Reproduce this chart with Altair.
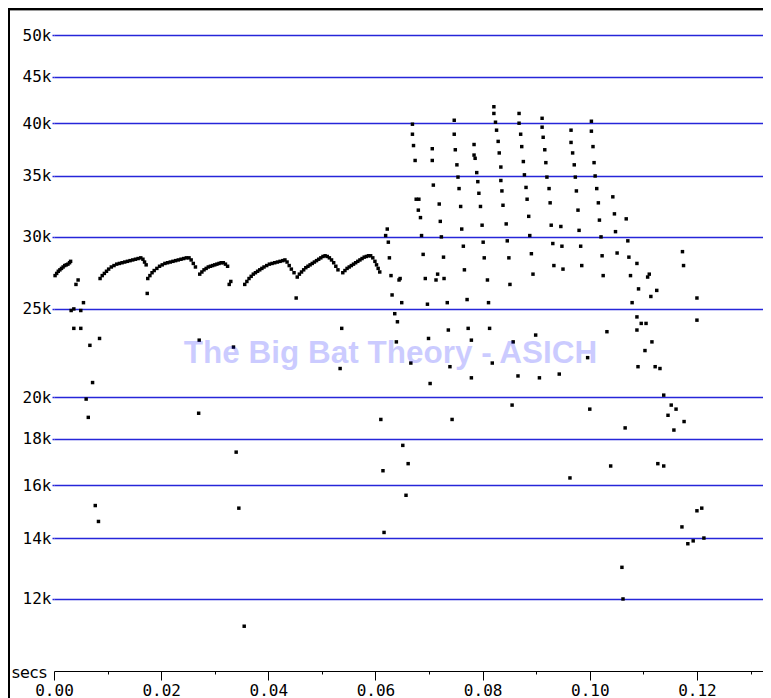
import altair as alt
import pandas as pd

# ---- data: time in milliseconds, frequency in kHz ----
chain1_t = [0.2, 0.5, 0.8, 1.1, 1.4, 1.7, 2.0, 2.3, 2.6, 2.9, 3.1]
chain1_f = [27.2, 27.35, 27.5, 27.6, 27.7, 27.8, 27.9, 27.95, 28.0, 28.1, 28.2]

chain2_t = [8.6, 9.0, 9.4, 9.8, 10.2, 10.7, 11.2, 11.7, 12.2, 12.7, 13.2, 13.7, 14.2, 14.7, 15.2, 15.7, 16.2, 16.6, 16.9, 17.2]
chain2_f = [27.0, 27.2, 27.35, 27.5, 27.65, 27.8, 27.9, 28.0, 28.05, 28.1, 28.15, 28.2, 28.25, 28.3, 28.35, 28.4, 28.45, 28.35, 28.15, 27.95]

chain3_t = [17.5, 17.9, 18.3, 18.7, 19.2, 19.7, 20.2, 20.7, 21.2, 21.7, 22.2, 22.7, 23.2, 23.7, 24.2, 24.7, 25.2, 25.6, 26.0, 26.4]
chain3_f = [27.0, 27.2, 27.4, 27.55, 27.7, 27.85, 27.95, 28.05, 28.1, 28.15, 28.2, 28.25, 28.3, 28.35, 28.4, 28.45, 28.45, 28.3, 28.05, 27.8]

chain4_t = [27.2, 27.6, 28.0, 28.4, 28.8, 29.2, 29.6, 30.0, 30.4, 30.8, 31.2, 31.6, 32.0, 32.4]
chain4_f = [27.3, 27.45, 27.6, 27.7, 27.8, 27.85, 27.9, 27.95, 28.0, 28.05, 28.1, 28.1, 28.0, 27.85]

chain5_t = [35.6, 36.0, 36.4, 36.8, 37.2, 37.6, 38.0, 38.4, 38.8, 39.2, 39.7, 40.2, 40.7, 41.2, 41.7, 42.2, 42.7, 43.1, 43.5, 43.9, 44.3, 44.8]
chain5_f = [26.6, 26.8, 27.0, 27.15, 27.3, 27.4, 27.5, 27.6, 27.7, 27.8, 27.9, 28.0, 28.05, 28.1, 28.15, 28.2, 28.25, 28.3, 28.15, 27.9, 27.65, 27.4]

chain6_t = [45.4, 45.8, 46.2, 46.6, 47.0, 47.4, 47.8, 48.2, 48.6, 49.0, 49.4, 49.8, 50.2, 50.6, 51.0, 51.4, 51.8, 52.2, 52.6, 53.0]
chain6_f = [27.1, 27.3, 27.45, 27.6, 27.75, 27.85, 27.95, 28.05, 28.15, 28.25, 28.35, 28.45, 28.55, 28.6, 28.55, 28.45, 28.3, 28.1, 27.85, 27.6]

chain7_t = [53.9, 54.3, 54.7, 55.1, 55.5, 55.9, 56.3, 56.7, 57.1, 57.5, 57.9, 58.3, 58.7, 59.1, 59.5, 59.9, 60.2, 60.5, 60.8]
chain7_f = [27.4, 27.55, 27.7, 27.8, 27.9, 28.0, 28.1, 28.2, 28.3, 28.4, 28.5, 28.55, 28.6, 28.6, 28.45, 28.2, 27.95, 27.7, 27.45]

early_t = [4.1, 4.5, 3.2, 3.7, 5.0, 5.5, 3.7, 5.0, 6.7, 8.5, 7.2, 6.0, 6.4, 7.7, 8.3, 17.4, 32.7, 33.0, 27.1, 33.5,
           27.0, 34.0, 34.5, 35.5, 45.2, 53.7, 53.4]
early_f = [26.6, 26.9, 24.9, 25.0, 24.9, 25.4, 23.8, 23.8, 22.8, 23.2, 20.75, 19.9, 19.0, 15.2, 14.6, 26.0, 26.6, 26.8, 23.1, 22.7,
           19.2, 17.4, 15.1, 11.2, 25.7, 23.8, 21.5]

late1_t = [71.9, 75.9, 79.6, 68.0, 68.4, 72.1, 76.1, 79.9, 62.2, 61.9, 68.6, 72.3, 62.4, 76.4, 80.1, 68.9, 72.7, 62.6, 80.3, 76.6,
           62.9, 64.6, 64.4, 69.3, 71.6, 71.3, 72.8, 80.9, 63.1, 64.9, 69.7, 73.4, 77.1, 81.1, 63.6, 64.1, 73.6, 77.3, 81.3]
late1_f = [32.6, 32.4, 32.4, 32.1, 31.5, 31.2, 30.6, 30.9, 30.6, 30.1, 30.1, 30.0, 29.6, 29.3, 29.6, 28.7, 28.5, 28.45, 28.45, 27.6,
           27.2, 27.0, 26.9, 27.0, 27.3, 26.9, 27.0, 26.9, 25.9, 25.4, 25.3, 25.4, 25.6, 25.4, 24.7, 24.2, 23.7, 23.8, 23.8]

late2_t = [82.1, 82.1, 86.8, 91.1, 66.9, 82.4, 86.8, 91.1, 74.7, 66.9, 74.7, 82.6, 87.1, 91.3, 67.1, 70.6, 74.9, 78.4, 82.9, 87.3,
           91.6, 67.4, 70.6, 78.4, 78.6, 83.1, 87.6, 91.8, 75.2, 78.9, 83.4, 75.4, 87.8, 92.0, 70.8, 79.1, 83.4, 75.6, 88.1, 92.4,
           79.3, 83.6, 67.6, 68.1, 83.8, 88.3, 92.6, 84.4, 88.6, 92.8, 94.6, 88.8, 84.6, 93.1, 94.8, 84.9, 89.1, 93.3, 95.0, 85.1,
           89.4]
late2_f = [41.7, 41.0, 41.0, 40.5, 39.9, 40.1, 40.0, 39.6, 40.3, 38.9, 38.9, 39.3, 38.9, 38.6, 37.8, 37.5, 37.4, 37.9, 38.2, 37.7,
           37.4, 36.4, 36.4, 36.9, 36.6, 37.1, 36.3, 36.2, 36.0, 35.3, 35.8, 34.9, 35.1, 34.9, 34.2, 34.5, 34.6, 33.9, 34.0, 33.9,
           33.5, 33.7, 33.0, 33.0, 32.5, 33.0, 32.7, 31.0, 31.6, 30.9, 30.8, 30.1, 29.7, 29.5, 29.3, 28.45, 28.75, 27.9, 27.65, 26.6,
           27.3]

late3_t = [100.3, 96.5, 100.3, 96.5, 100.6, 96.8, 97.1, 100.8, 97.3, 101.0, 97.5, 101.3, 104.3, 97.8, 101.6, 104.6, 106.8, 98.0,
           101.8, 104.8, 102.1, 107.1, 98.3, 102.3, 105.1, 107.3, 117.3, 98.5, 102.5, 107.6, 108.8, 111.1, 110.8, 117.5, 109.1, 112.5]
late3_f = [40.2, 39.3, 39.2, 38.1, 37.7, 37.1, 36.0, 36.2, 34.9, 35.0, 33.7, 33.9, 33.2, 32.1, 32.7, 31.8, 31.4, 30.5,
           31.3, 30.4, 30.0, 29.7, 29.3, 28.6, 28.8, 28.5, 28.9, 27.9, 27.2, 27.2, 28.05, 27.3, 27.1, 27.9, 26.3, 26.2]

late4_t = [63.9, 69.9, 77.9, 66.6, 73.9, 81.8, 89.9, 85.7, 99.6, 103.2, 77.9, 86.6, 90.6, 94.3]
late4_f = [23.0, 23.2, 23.1, 21.8, 21.6, 21.8, 23.4, 23.0, 22.1, 23.6, 21.0, 21.1, 21.0, 21.2]

low_t = [61.0, 61.4, 61.6, 65.1, 66.1, 65.7, 70.2, 74.3, 85.5, 100.0, 96.3, 103.9, 106.6, 106.0, 106.2, 112.7, 113.8, 120.0,
         120.0, 117.2, 118.3, 119.3, 120.0, 120.9, 121.3]
low_f = [18.9, 16.6, 14.2, 17.7, 16.9, 15.6, 20.7, 18.9, 19.6, 19.4, 16.3, 16.8, 18.5, 13.0, 12.0, 16.9, 16.8, 25.7,
         24.3, 14.4, 13.8, 13.9, 15.0, 15.1, 14.0]

tail_t = [107.9, 108.8, 109.6, 108.8, 110.5, 111.4, 109.0, 110.3, 111.6, 112.2, 113.1, 113.8, 114.6, 115.2, 116.1, 115.7, 117.6]
tail_f = [25.4, 24.5, 24.1, 23.7, 24.1, 25.8, 21.6, 22.5, 23.0, 21.6, 21.5, 20.1, 19.1, 19.6, 19.4, 18.4, 18.8]

x_tick_ms = [0, 10, 20, 30, 40, 50, 60, 70, 80, 90, 100, 110, 120, 130]
y_tick_khz = [12, 14, 16, 18, 20, 25, 30, 35, 40, 45, 50]
watermark = "The Big Bat Theory - ASICH"

groups = [(chain1_t, chain1_f), (chain2_t, chain2_f), (chain3_t, chain3_f), (chain4_t, chain4_f),
          (chain5_t, chain5_f), (chain6_t, chain6_f), (chain7_t, chain7_f), (early_t, early_f),
          (late1_t, late1_f), (late2_t, late2_f), (late3_t, late3_f), (late4_t, late4_f),
          (low_t, low_f), (tail_t, tail_f)]
rows = []
for ts, fs in groups:
    assert len(ts) == len(fs)
    rows += [{"t": t, "f": f} for t, f in zip(ts, fs)]
df = pd.DataFrame(rows)

GRID = "#2626d9"
MONO = "DejaVu Sans Mono"
W, H = 709, 663
X_MAX = 132.33

x_enc = alt.X(
    "t:Q",
    scale=alt.Scale(domain=[0, X_MAX], nice=False, zero=False),
    axis=alt.Axis(
        values=x_tick_ms,
        labelExpr="datum.value % 20 === 0 ? format(datum.value / 1000, '.2f') : ''",
        title=None, grid=False,
        tickSize={"condition": {"test": "datum.value % 20 === 0", "value": 9}, "value": 3},
        tickColor="black", tickWidth=1, domainColor="black", domainWidth=1,
        labelFont=MONO, labelFontSize=16, labelColor="black", labelPadding=2,
        labelFlush=False, labelOverlap=False,
    ),
)
y_enc = alt.Y(
    "f:Q",
    scale=alt.Scale(type="log", domain=[10, 53.54], nice=False),
    axis=alt.Axis(
        values=y_tick_khz, labelExpr="datum.value + 'k'", title=None,
        grid=True, gridColor=GRID, gridWidth=1.5,
        tickSize=2, tickColor=GRID, tickWidth=1.5, domain=False,
        labelFont=MONO, labelFontSize=16, labelColor="black", labelPadding=1,
    ),
)

points = alt.Chart(df).mark_square(size=12, color="black", opacity=1).encode(x=x_enc, y=y_enc)

one = alt.Data(values=[{"k": 1}])
left_border = alt.Chart(one).mark_rule(color="black", strokeWidth=2).encode(
    x=alt.value(-45), y=alt.value(0), y2=alt.value(690))
top_border = alt.Chart(one).mark_rule(color="black", strokeWidth=2).encode(
    x=alt.value(-46), x2=alt.value(W), y=alt.value(1))
top_shade = alt.Chart(one).mark_rule(color="#9a9a9a", strokeWidth=1).encode(
    x=alt.value(-44), x2=alt.value(W), y=alt.value(2.5))
secs = alt.Chart(one).mark_text(text="secs", font="DejaVu Sans", fontSize=16, align="right",
                                baseline="alphabetic", color="black").encode(
    x=alt.value(-7), y=alt.value(670))
mark_wm = alt.Chart(one).mark_text(text=watermark, font="Liberation Sans", fontWeight="bold", fontSize=31.5,
                                   align="center", baseline="alphabetic", color="#0000ff", opacity=0.2).encode(
    x=alt.value(336.5), y=alt.value(355.3))

chart = alt.layer(points, left_border, top_border, top_shade, secs, mark_wm).properties(
    width=W, height=H,
    autosize=alt.AutoSizeParams(type="none"),
    padding={"left": 46, "top": 0, "right": 0, "bottom": 27},
    background="white",
).configure_view(stroke=None)

chart.save("out.html", embed_options={"renderer": "svg", "actions": False})
